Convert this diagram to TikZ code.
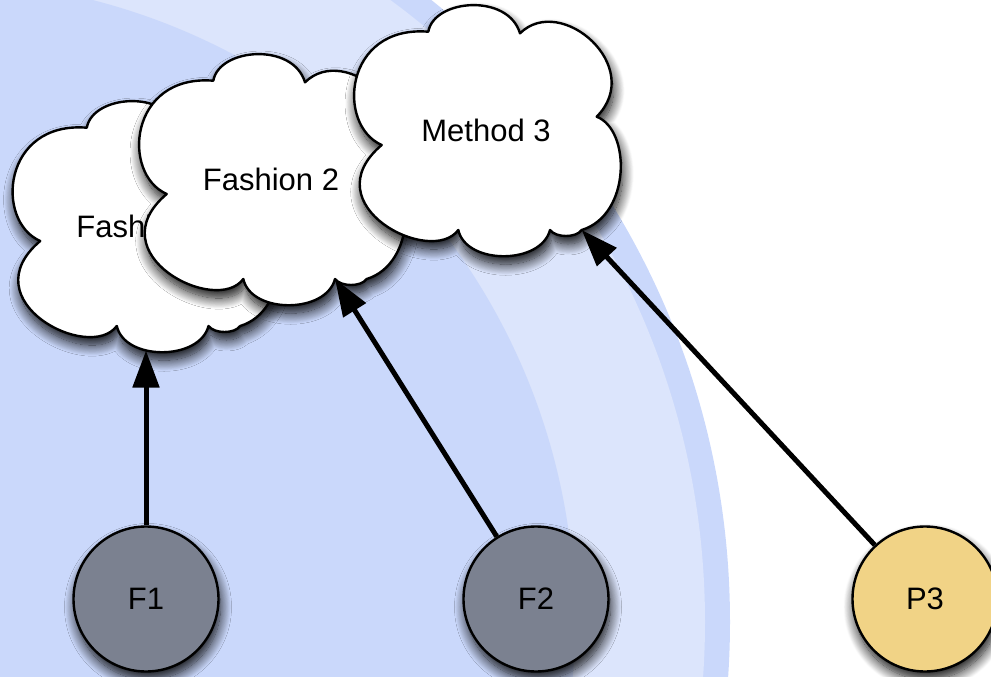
\documentclass[tikz,border=0pt]{standalone}
\usepackage{fontspec}
\setmainfont{Liberation Sans}
\usetikzlibrary{arrows.meta,shadows.blur}
\definecolor{ringblue}{HTML}{CAD8FB}
\definecolor{bandblue}{HTML}{DCE5FC}
\definecolor{slate}{HTML}{7B8190}
\definecolor{sand}{HTML}{F1D386}
\tikzset{
  softshadow/.style={blur shadow={shadow xshift=2pt, shadow yshift=-8pt,
      shadow blur radius=11pt, shadow blur steps=16, shadow opacity=95}},
  ideashape/.style={draw=black, line width=2.4pt, line join=round,
      fill=white, softshadow},
  ideatext/.style={inner sep=0pt, font=\fontsize{31}{37}\selectfont},
  actor/.style={circle, minimum size=145pt, inner sep=0pt,
      draw=black, line width=2.4pt, softshadow,
      font=\fontsize{31}{37}\selectfont},
  link/.style={line width=5pt, -{Triangle[length=37pt,width=26pt]}},
  % a cloud of seven irregular puffs, 264 x 252, drawn from its top-left corner
  pics/idea/.style={code={
    \path[ideashape] (25.7,140)
      .. controls (-20,120) and (-12,20) .. (72.3,26.7)
      .. controls (78,-6) and (152,-12) .. (164,28.3)
      .. controls (205,-12) and (290,62) .. (240.7,111.7)
      .. controls (275,125) and (275,210) .. (225.7,225)
      .. controls (220,233) and (200,233) .. (194,225)
      .. controls (185,260) and (110,260) .. (102.3,225)
      .. controls (75,262) and (-45,200) .. (25.7,140) -- cycle;
    \node[ideatext] (-label) at (130,125) {#1};
    \coordinate (-bottom) at (131.5,249.5);
    \coordinate (-notch) at (194,225);
    \coordinate (-corner) at (225.7,225);
  }}
}
\begin{document}
\begin{tikzpicture}[x=1pt,y=-1pt]
\useasboundingbox (0,0) rectangle (991,677);
\clip (0,0) rectangle (991,677);
% concentric background discs
\fill[ringblue] (-67,622) circle[radius=797];
\fill[bandblue] (-67,622) circle[radius=772];
\fill[ringblue] (-67,622) circle[radius=642];
% clouds, back to front
\pic (c1) at (14.5,101) {idea={Fashion 1}};
\pic (c2) at (141,54) {idea={Fashion 2}};
\pic (c3) at (356,5) {idea={Method 3}};
% sources
\node[actor, fill=slate] (F1) at (146,599) {F1};
\node[actor, fill=slate] (F2) at (536,599) {F2};
\node[actor, fill=sand]  (P3) at (925,599) {P3};
% connectors
\draw[link] (F1) -- (c1-bottom);
\draw[link] (F2) -- (c2-notch);
\draw[link] (P3) -- (c3-corner);
\end{tikzpicture}
\end{document}
